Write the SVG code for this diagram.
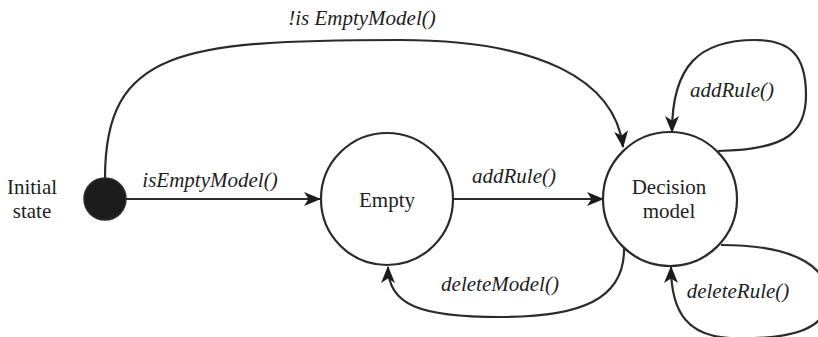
<svg xmlns="http://www.w3.org/2000/svg" width="818" height="337" viewBox="0 0 818 337">
  <style>
    .state { fill: #ffffff; stroke: #2b2b2b; stroke-width: 2.2; }
    .start { fill: #1c1c1c; stroke: #2b2b2b; stroke-width: 1.5; }
    .edge { fill: none; stroke: #2b2b2b; stroke-width: 2.2; marker-end: url(#arrow); }
    text { font-family: "Liberation Serif", "Times New Roman", serif; font-size: 21px; fill: #1e1e1e; text-anchor: middle; }
    .lbl { font-style: italic; }
  </style>
  <defs>
    <!-- concave arrowhead shared by every transition -->
    <marker id="arrow" markerWidth="17" markerHeight="14" viewBox="0 0 17 14" refX="16" refY="7" orient="auto" markerUnits="userSpaceOnUse">
      <path d="M0,0 L17,7 L0,14 L4.5,7 Z" fill="#1c1c1c"/>
    </marker>
  </defs>

  <g id="connectors">
    <path id="e-not-empty" class="edge" d="M105,178 C105,50 180,40 400,40 C540,40 615,80 623,147"/>
    <path id="e-is-empty" class="edge" d="M126,199 L320,199"/>
    <path id="e-add-first" class="edge" d="M453,199 L603,199"/>
    <path id="e-add-loop" class="edge" d="M718,151 C790,150 806,130 806,95 C806,55 790,40 755,40 C700,40 672,65 672,132"/>
    <path id="e-delete-rule" class="edge" d="M721,245 C800,245 830,270 828,300 C826,330 790,340 730,338 C690,336 671,315 671,267"/>
    <path id="e-delete-model" class="edge" d="M624,246 C626,300 580,317 500,317 C420,317 388,305 388,267"/>
  </g>

  <g id="initial">
    <circle class="start" cx="105" cy="199" r="21"/>
    <text x="32" y="194">Initial</text>
    <text x="32" y="218">state</text>
  </g>

  <g id="empty">
    <circle class="state" cx="387" cy="199" r="66"/>
    <text x="387" y="207">Empty</text>
  </g>

  <g id="decision">
    <circle class="state" cx="670" cy="199" r="67"/>
    <text x="669" y="194">Decision</text>
    <text x="669" y="218">model</text>
  </g>

  <g id="labels">
    <text class="lbl" x="362" y="25">!is EmptyModel()</text>
    <text class="lbl" x="210" y="187">isEmptyModel()</text>
    <text class="lbl" x="514" y="183">addRule()</text>
    <text class="lbl" x="732" y="97">addRule()</text>
    <text class="lbl" x="500" y="291">deleteModel()</text>
    <text class="lbl" x="738" y="298">deleteRule()</text>
  </g>
</svg>
